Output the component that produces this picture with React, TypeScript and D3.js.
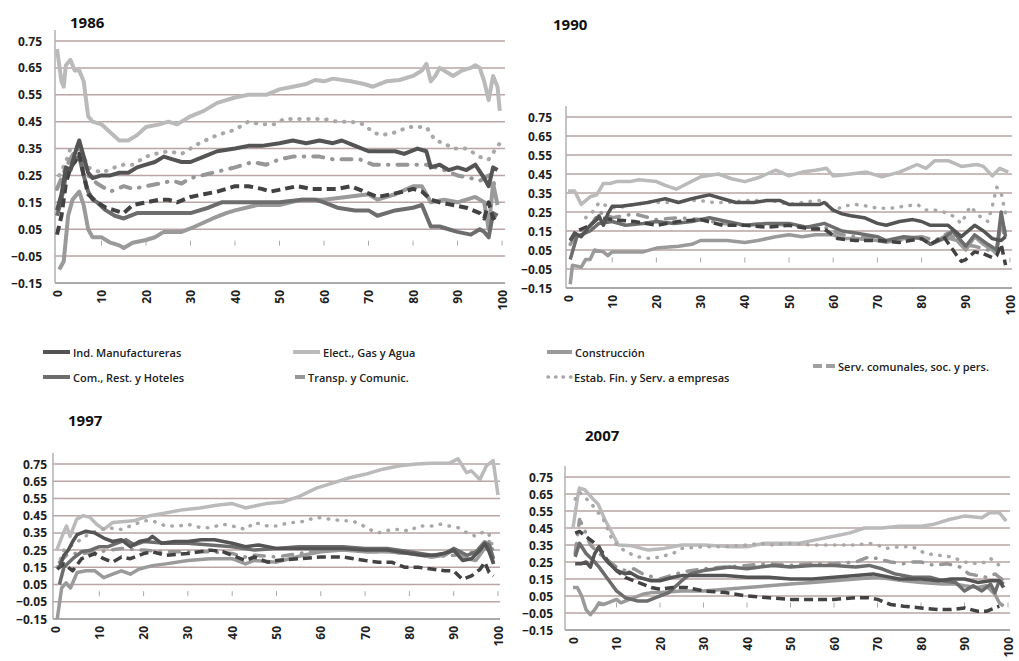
import React, { useEffect, useRef } from 'react';
import * as d3 from 'd3';

type Pt = [number, number];

const xTicks = [0, 10, 20, 30, 40, 50, 60, 70, 80, 90, 100];
const yTicks = [-0.15, -0.05, 0.05, 0.15, 0.25, 0.35, 0.45, 0.55, 0.65, 0.75];

const seriesNames = [
  'Ind. Manufactureras',
  'Elect., Gas y Agua',
  'Construcción',
  'Com., Rest. y Hoteles',
  'Transp. y Comunic.',
  'Estab. Fin. y Serv. a empresas',
  'Serv. comunales, soc. y pers.',
];

// ---- 1986 ----
const ind1986: Pt[] = [[0,0.12],[1,0.18],[2,0.28],[3,0.27],[4,0.33],[5,0.38],[6,0.32],[7,0.26],[8,0.24],[10,0.25],[12,0.25],[14,0.26],[16,0.26],[18,0.28],[20,0.29],[22,0.30],[24,0.32],[26,0.31],[28,0.30],[30,0.30],[33,0.32],[36,0.34],[40,0.35],[43,0.36],[46,0.36],[50,0.37],[53,0.38],[56,0.37],[59,0.38],[62,0.37],[64,0.38],[67,0.36],[70,0.34],[73,0.34],[76,0.34],[78,0.33],[81,0.35],[83,0.34],[84,0.28],[86,0.29],[88,0.27],[90,0.28],[92,0.27],[94,0.29],[96,0.24],[97,0.21],[98,0.28],[99,0.27]];
const elect1986: Pt[] = [[0,0.72],[1,0.6],[1.5,0.58],[2,0.66],[3,0.68],[4,0.64],[5,0.64],[6,0.6],[7,0.47],[8,0.45],[10,0.44],[12,0.41],[14,0.38],[16,0.38],[18,0.4],[20,0.43],[23,0.44],[25,0.45],[27,0.44],[30,0.47],[33,0.49],[36,0.52],[40,0.54],[43,0.55],[47,0.55],[50,0.57],[53,0.58],[56,0.59],[58,0.605],[60,0.6],[62,0.61],[66,0.6],[69,0.59],[71,0.58],[74,0.6],[77,0.605],[80,0.62],[82,0.64],[83,0.665],[84,0.6],[85,0.62],[86,0.65],[88,0.63],[89,0.62],[91,0.64],[93,0.65],[94,0.66],[95,0.65],[96,0.6],[97,0.53],[98,0.62],[99,0.58],[99.5,0.49]];
const constr1986: Pt[] = [[0.5,-0.1],[1.5,-0.07],[2.5,0.1],[3.5,0.16],[5,0.19],[6,0.14],[7,0.05],[8,0.02],[10,0.02],[12,0],[14,-0.01],[15,-0.02],[17,0],[20,0.01],[22,0.02],[24,0.04],[26,0.04],[28,0.04],[31,0.06],[35,0.09],[38,0.11],[40,0.12],[45,0.14],[50,0.14],[55,0.16],[60,0.16],[65,0.17],[70,0.18],[72,0.16],[76,0.18],[80,0.21],[82,0.21],[84,0.15],[87,0.16],[90,0.15],[94,0.17],[96,0.15],[97,0.05],[98,0.22],[99,0.14]];
const com1986: Pt[] = [[0,0.1],[1,0.16],[2,0.25],[3,0.27],[4,0.31],[5,0.32],[6,0.25],[7,0.19],[8,0.16],[9,0.15],[11,0.12],[13,0.1],[15,0.09],[18,0.11],[22,0.11],[26,0.11],[30,0.11],[34,0.13],[37,0.15],[40,0.15],[45,0.15],[50,0.15],[55,0.16],[58,0.16],[60,0.15],[63,0.13],[67,0.12],[70,0.12],[72,0.1],[76,0.12],[80,0.13],[82,0.14],[84,0.06],[86,0.06],[88,0.05],[90,0.04],[93,0.03],[95,0.05],[96,0.04],[97,0.02],[98,0.11],[99,0.1]];
const transp1986: Pt[] = [[0,0.2],[1,0.24],[2,0.28],[3,0.31],[4,0.34],[5,0.35],[6,0.3],[7,0.25],[9,0.22],[12,0.19],[15,0.21],[17,0.2],[20,0.21],[23,0.22],[26,0.23],[28,0.22],[30,0.24],[35,0.26],[40,0.28],[44,0.3],[47,0.29],[50,0.31],[53,0.32],[56,0.32],[59,0.32],[62,0.31],[65,0.31],[68,0.31],[71,0.29],[74,0.29],[77,0.29],[80,0.29],[83,0.29],[85,0.28],[87,0.27],[90,0.25],[93,0.24],[95,0.23],[97,0.25],[99,0.2]];
const estab1986: Pt[] = [[0.5,0.25],[2,0.3],[3,0.35],[5,0.36],[7,0.28],[10,0.26],[13,0.28],[15,0.29],[17,0.29],[20,0.32],[22,0.33],[25,0.34],[28,0.33],[30,0.35],[32,0.37],[36,0.4],[40,0.42],[43,0.45],[46,0.44],[49,0.44],[51,0.46],[54,0.46],[57,0.46],[60,0.46],[63,0.45],[66,0.45],[69,0.44],[71,0.41],[73,0.4],[76,0.41],[79,0.43],[81,0.43],[83,0.43],[85,0.38],[87,0.37],[89,0.35],[92,0.35],[94,0.33],[96,0.31],[97,0.31],[99.5,0.37]];
const serv1986: Pt[] = [[0,0.03],[1,0.1],[2,0.22],[3,0.28],[4,0.3],[5,0.33],[6,0.25],[7,0.18],[9,0.15],[11,0.13],[13,0.12],[15,0.11],[17,0.14],[20,0.15],[23,0.16],[25,0.16],[27,0.15],[30,0.17],[33,0.18],[36,0.19],[40,0.21],[43,0.21],[46,0.2],[48,0.19],[51,0.2],[54,0.21],[57,0.2],[60,0.2],[63,0.2],[66,0.21],[69,0.19],[72,0.17],[75,0.18],[78,0.19],[80,0.2],[82,0.19],[84,0.16],[86,0.15],[89,0.14],[92,0.13],[95,0.11],[96,0.09],[97,0.15],[98,0.09],[99,0.1]];

// ---- 1990 ----
const ind1990: Pt[] = [[0.5,0.1],[1.5,0.14],[3,0.12],[4,0.15],[5,0.18],[6,0.2],[7,0.23],[8,0.18],[9,0.24],[10,0.28],[12,0.28],[15,0.29],[18,0.3],[20,0.31],[22,0.32],[25,0.3],[28,0.32],[30,0.33],[32,0.34],[35,0.32],[38,0.3],[40,0.3],[42,0.3],[45,0.31],[48,0.31],[50,0.29],[54,0.29],[57,0.29],[58,0.3],[60,0.26],[62,0.24],[64,0.23],[67,0.22],[70,0.19],[72,0.18],[75,0.2],[78,0.21],[80,0.2],[82,0.18],[84,0.18],[86,0.18],[88,0.14],[89,0.12],[91,0.16],[92,0.18],[94,0.15],[96,0.11],[98,0.1],[99,0.12]];
const elect1990: Pt[] = [[0,0.36],[1.5,0.36],[3,0.29],[5,0.33],[6.5,0.34],[8,0.4],[9.5,0.4],[11,0.41],[14,0.41],[16,0.42],[20,0.41],[22,0.39],[24.5,0.37],[27,0.4],[30,0.435],[34,0.45],[37,0.425],[40,0.41],[43,0.43],[45,0.45],[47,0.47],[50,0.44],[53,0.46],[56,0.47],[58.5,0.48],[60,0.44],[64,0.45],[67.5,0.46],[71,0.435],[75,0.46],[79,0.5],[81,0.48],[83,0.52],[86,0.52],[89,0.49],[92.5,0.5],[94,0.49],[96,0.44],[97.7,0.48],[99.6,0.46]];
const constr1990: Pt[] = [[0.5,-0.13],[1,-0.03],[3,-0.04],[4,0],[5,0],[6,0.05],[8,0.04],[9,0.02],[10,0.04],[14,0.04],[17,0.04],[20,0.06],[25,0.07],[28,0.08],[30,0.1],[33,0.1],[36,0.1],[40,0.09],[43,0.1],[47,0.12],[50,0.13],[53,0.12],[56,0.13],[60,0.13],[62,0.11],[65,0.11],[70,0.1],[72,0.09],[76,0.11],[80,0.12],[82,0.08],[85,0.12],[88,0.1],[90,0.05],[92,0.12],[94,0.08],[96,0.05],[97,0.03],[98,0.21],[99,0.14]];
const com1990: Pt[] = [[0.5,0],[2,0.12],[5,0.15],[7,0.19],[10,0.2],[13,0.18],[17,0.19],[20,0.2],[24,0.19],[28,0.2],[32,0.22],[36,0.2],[40,0.18],[45,0.19],[50,0.19],[54,0.17],[58,0.19],[62,0.15],[65,0.14],[70,0.12],[72,0.1],[76,0.12],[80,0.11],[82,0.08],[85,0.11],[87,0.15],[90,0.07],[92,0.13],[95,0.08],[97,0.05],[98,0.25],[99,0.12]];
const transp1990: Pt[] = [[0.5,0.08],[2,0.14],[5,0.17],[7,0.25],[10,0.22],[15,0.24],[20,0.21],[25,0.22],[30,0.21],[35,0.19],[40,0.18],[45,0.19],[50,0.18],[55,0.17],[58,0.17],[62,0.13],[65,0.12],[70,0.11],[75,0.1],[80,0.12],[83,0.1],[86,0.14],[89,0.08],[92,0.07],[95,0.05],[97,0.06],[98,0.2],[99,0.1]];
const estab1990: Pt[] = [[4,0.22],[6,0.26],[7,0.3],[9,0.28],[11,0.27],[13,0.28],[15,0.29],[18,0.3],[20,0.3],[23,0.3],[26,0.31],[30,0.31],[33,0.3],[36,0.3],[40,0.31],[43,0.31],[46,0.31],[50,0.29],[53,0.3],[56,0.31],[58,0.31],[60,0.25],[62,0.28],[65,0.29],[68,0.28],[70,0.27],[73,0.27],[76,0.28],[79,0.29],[81,0.26],[83,0.26],[85,0.25],[87,0.23],[89,0.19],[91,0.28],[93,0.23],[95,0.2],[96,0.28],[97,0.38],[98,0.35],[99,0.24]];
const serv1990: Pt[] = [[0.5,0.1],[2,0.15],[5,0.18],[7,0.22],[10,0.21],[15,0.2],[20,0.18],[25,0.2],[30,0.21],[35,0.18],[40,0.18],[45,0.17],[50,0.18],[55,0.16],[58,0.16],[61,0.11],[65,0.1],[70,0.1],[75,0.09],[80,0.11],[82,0.08],[85,0.12],[88,0.02],[89,-0.01],[90,0],[92,0.04],[94,0.03],[96,0.01],[97,0.02],[98,0.08],[99,-0.03]];

// ---- 1997 ----
const ind1997: Pt[] = [[1,0.15],[2,0.22],[3,0.25],[4,0.3],[5,0.34],[7,0.36],[9,0.35],[11,0.32],[13,0.3],[15,0.31],[17,0.27],[19,0.3],[21,0.31],[22,0.33],[24,0.29],[27,0.3],[30,0.3],[33,0.31],[36,0.31],[38,0.3],[40,0.29],[43,0.27],[46,0.28],[50,0.26],[55,0.26],[60,0.26],[65,0.26],[70,0.25],[75,0.25],[80,0.23],[83,0.22],[86,0.22],[89,0.24],[90,0.25],[92,0.19],[94,0.2],[96,0.25],[97,0.29],[98,0.24],[99,0.17]];
const elect1997: Pt[] = [[0.4,0.25],[1.9,0.35],[2.6,0.39],[3.4,0.33],[4.9,0.43],[6.4,0.45],[7.9,0.44],[9.4,0.4],[11,0.37],[13,0.41],[17.7,0.42],[21.4,0.45],[23.7,0.46],[29,0.485],[32.7,0.495],[36.5,0.51],[40,0.52],[43,0.495],[47.7,0.52],[51.5,0.53],[53.8,0.55],[55,0.56],[59,0.61],[62.8,0.64],[66.5,0.67],[70,0.69],[74,0.72],[77.8,0.74],[81.6,0.75],[85,0.755],[89,0.755],[91,0.78],[92.9,0.7],[94,0.71],[95.9,0.66],[97.4,0.74],[98.9,0.77],[100,0.57]];
const constr1997: Pt[] = [[0.5,-0.15],[1.5,0.03],[2.5,0.06],[3.5,0.03],[5,0.12],[7,0.13],[9,0.13],[11,0.09],[13,0.11],[15,0.13],[17,0.11],[19,0.14],[22,0.16],[25,0.17],[30,0.19],[35,0.2],[40,0.2],[43,0.17],[45,0.19],[50,0.18],[53,0.2],[56,0.22],[60,0.24],[65,0.25],[70,0.24],[75,0.24],[80,0.23],[85,0.21],[88,0.22],[90,0.25],[93,0.2],[95,0.19],[97,0.26],[98,0.3],[99,0.17]];
const com1997: Pt[] = [[1,0.05],[2,0.15],[4,0.2],[6,0.24],[8,0.25],[10,0.27],[12,0.27],[14,0.29],[16,0.31],[18,0.28],[20,0.3],[25,0.29],[30,0.29],[35,0.28],[40,0.27],[45,0.25],[50,0.26],[55,0.27],[60,0.27],[65,0.27],[70,0.26],[75,0.26],[80,0.24],[85,0.22],[88,0.23],[90,0.26],[93,0.22],[95,0.24],[97,0.29],[98,0.28],[99,0.2]];
const transp1997: Pt[] = [[1,0.18],[3,0.23],[6,0.23],[10,0.24],[15,0.26],[20,0.25],[25,0.24],[30,0.24],[35,0.24],[40,0.23],[43,0.21],[45,0.22],[50,0.21],[55,0.23],[60,0.25],[65,0.26],[70,0.24],[75,0.24],[80,0.23],[85,0.21],[90,0.22],[95,0.24],[97,0.3],[99,0.25]];
const estab1997: Pt[] = [[0.5,0.15],[2,0.25],[4,0.28],[8,0.35],[12,0.38],[15,0.37],[17,0.39],[20,0.42],[22,0.42],[25,0.39],[28,0.39],[30,0.4],[33,0.38],[35,0.38],[38,0.4],[40,0.39],[43,0.37],[45,0.41],[48,0.39],[50,0.39],[53,0.41],[55,0.41],[59,0.44],[62,0.43],[65,0.42],[67,0.42],[69,0.4],[71,0.37],[73,0.35],[76,0.37],[78,0.37],[80,0.36],[82,0.39],[85,0.39],[87,0.4],[89,0.39],[91,0.38],[93,0.35],[95,0.33],[97,0.36],[98,0.34],[99,0.25]];
const serv1997: Pt[] = [[0.5,0.14],[2,0.17],[4,0.13],[6,0.2],[8,0.22],[9,0.23],[11,0.2],[13,0.18],[15,0.21],[17,0.2],[20,0.23],[22,0.24],[25,0.22],[30,0.23],[35,0.25],[38,0.24],[40,0.22],[43,0.19],[45,0.21],[48,0.18],[50,0.19],[55,0.2],[60,0.21],[65,0.21],[70,0.19],[73,0.18],[76,0.18],[79,0.15],[82,0.15],[85,0.14],[88,0.13],[90,0.13],[92,0.08],[94,0.1],[96,0.14],[97,0.18],[98,0.12],[99,0.1]];

// ---- 2007 ----
const ind2007: Pt[] = [[0.5,0.24],[2,0.24],[3,0.25],[4,0.22],[5,0.3],[6,0.34],[7,0.28],[8,0.25],[10,0.2],[12,0.18],[13,0.19],[15,0.16],[18,0.14],[20,0.14],[23,0.16],[25,0.17],[30,0.17],[35,0.17],[40,0.16],[45,0.16],[50,0.15],[55,0.15],[60,0.16],[65,0.17],[69,0.18],[71,0.17],[75,0.15],[80,0.15],[84,0.14],[87,0.15],[90,0.15],[93,0.13],[96,0.14],[98,0.14],[99,0.1]];
const elect2007: Pt[] = [[0,0.45],[1.2,0.655],[1.5,0.685],[2.7,0.675],[5,0.61],[5.8,0.59],[7.3,0.5],[8.8,0.43],[10.4,0.35],[13.5,0.345],[17.3,0.32],[21,0.33],[25,0.35],[30,0.35],[36.5,0.34],[40,0.34],[44,0.36],[48,0.36],[52,0.36],[55.8,0.38],[59.6,0.4],[63.5,0.42],[67,0.45],[71,0.45],[75,0.46],[80,0.46],[82.7,0.47],[86.5,0.5],[90,0.52],[94,0.51],[95.8,0.54],[98,0.54],[99.6,0.49]];
const constr2007: Pt[] = [[0,0.1],[1,0.1],[2,0.05],[3,-0.03],[4,-0.06],[5,-0.03],[6,0.01],[7,0],[8,0.01],[9,0.02],[10,0.03],[11,0.01],[12,0.02],[14,0.04],[16,0.06],[18,0.07],[20,0.07],[25,0.08],[30,0.08],[35,0.09],[40,0.1],[45,0.11],[50,0.12],[55,0.13],[60,0.14],[65,0.15],[70,0.16],[73,0.15],[76,0.14],[80,0.13],[85,0.12],[88,0.12],[90,0.11],[93,0.1],[95,0.11],[97,0.06],[98,0.01],[99,-0.01]];
const com2007: Pt[] = [[0.5,0.28],[1.5,0.36],[3,0.3],[5,0.25],[6,0.22],[8,0.15],[10,0.08],[12,0.04],[15,0.02],[17,0.02],[19,0.04],[22,0.07],[25,0.14],[27,0.18],[30,0.2],[33,0.21],[36,0.22],[40,0.21],[43,0.22],[46,0.23],[50,0.22],[55,0.23],[60,0.23],[65,0.22],[68,0.23],[71,0.21],[74,0.18],[78,0.16],[82,0.16],[85,0.14],[88,0.13],[90,0.08],[92,0.11],[94,0.08],[96,0.12],[97,0.07],[98,0.14],[99,0.12]];
const transp2007: Pt[] = [[0.5,0.3],[1.5,0.5],[2.5,0.45],[4,0.35],[6,0.3],[8,0.26],[10,0.22],[12,0.2],[14,0.21],[16,0.18],[20,0.15],[25,0.19],[30,0.21],[35,0.22],[40,0.23],[45,0.24],[50,0.23],[55,0.24],[60,0.24],[65,0.25],[68,0.28],[70,0.27],[73,0.25],[76,0.24],[78,0.25],[80,0.25],[83,0.23],[86,0.24],[89,0.22],[91,0.18],[93,0.17],[95,0.16],[97,0.18],[99,0.14]];
const estab2007: Pt[] = [[0.5,0.62],[1.5,0.66],[4,0.6],[7,0.5],[9,0.38],[11,0.33],[13,0.3],[15,0.28],[18,0.27],[20,0.28],[23,0.3],[25,0.33],[30,0.34],[35,0.34],[40,0.35],[43,0.36],[46,0.35],[50,0.36],[55,0.35],[60,0.35],[65,0.35],[68,0.36],[70,0.35],[72,0.33],[75,0.34],[78,0.34],[81,0.3],[84,0.29],[87,0.28],[90,0.25],[93,0.24],[95,0.25],[96,0.27],[98,0.23]];
const serv2007: Pt[] = [[0.5,0.42],[1.5,0.43],[3,0.4],[5,0.36],[7,0.3],[8,0.25],[10,0.2],[12,0.16],[14,0.14],[16,0.12],[18,0.1],[20,0.09],[23,0.1],[26,0.1],[30,0.08],[35,0.07],[40,0.05],[45,0.04],[50,0.03],[55,0.03],[60,0.03],[65,0.04],[68,0.04],[70,0.03],[73,0],[76,-0.01],[80,-0.02],[84,-0.03],[87,-0.03],[90,-0.02],[93,-0.04],[95,-0.04],[97,-0.02],[98,-0.01]];

const styles: Record<string, { color: string; dash: string | null; cap: string }> = {
  'Ind. Manufactureras': { color: '#545454', dash: null, cap: 'butt' },
  'Elect., Gas y Agua': { color: '#bababa', dash: null, cap: 'butt' },
  'Construcción': { color: '#9a9a9a', dash: null, cap: 'butt' },
  'Com., Rest. y Hoteles': { color: '#6d6d6d', dash: null, cap: 'butt' },
  'Transp. y Comunic.': { color: '#979797', dash: '10 9 0.5 9', cap: 'round' },
  'Estab. Fin. y Serv. a empresas': { color: '#a8a8a8', dash: '0.5 8.5', cap: 'round' },
  'Serv. comunales, soc. y pers.': { color: '#424242', dash: '9 5', cap: 'butt' },
};

// drawing order (back to front)
const drawOrder = [
  'Elect., Gas y Agua',
  'Estab. Fin. y Serv. a empresas',
  'Transp. y Comunic.',
  'Construcción',
  'Com., Rest. y Hoteles',
  'Serv. comunales, soc. y pers.',
  'Ind. Manufactureras',
];

const panels = [
  {
    year: '1986', titleX: 70, titleY: 28, axisX: 55, x0: 57, x100: 502, right: 505, yTop: 41, yBot: 283, labelGap: 13, lw: 4,
    data: [ind1986, elect1986, constr1986, com1986, transp1986, estab1986, serv1986],
  },
  {
    year: '1990', titleX: 553, titleY: 30, axisX: 566, x0: 568, x100: 1010, right: 1012, yTop: 117, yBot: 288, labelGap: 14, lw: 3.5,
    data: [ind1990, elect1990, constr1990, com1990, transp1990, estab1990, serv1990],
  },
  {
    year: '1997', titleX: 68, titleY: 426, axisX: 53, x0: 55, x100: 498, right: 500, yTop: 464, yBot: 619, labelGap: 6, lw: 3.5,
    data: [ind1997, elect1997, constr1997, com1997, transp1997, estab1997, serv1997],
  },
  {
    year: '2007', titleX: 585, titleY: 441, axisX: 565, x0: 573, x100: 1008, right: 1010, yTop: 477, yBot: 630, labelGap: 12, lw: 3.5,
    data: [ind2007, elect2007, constr2007, com2007, transp2007, estab2007, serv2007],
  },
];

const legendItems = [
  { name: 'Ind. Manufactureras', x1: 43, x2: 70, y: 352 },
  { name: 'Com., Rest. y Hoteles', x1: 43, x2: 70, y: 377 },
  { name: 'Elect., Gas y Agua', x1: 293, x2: 320, y: 352 },
  { name: 'Transp. y Comunic.', x1: 295, x2: 305, y: 377 },
  { name: 'Construcción', x1: 547, x2: 572, y: 352 },
  { name: 'Estab. Fin. y Serv. a empresas', x1: 548, x2: 571, y: 377 },
  { name: 'Serv. comunales, soc. y pers.', x1: 813, x2: 835, y: 366 },
];

const FONT = "'Open Sans', 'DejaVu Sans', sans-serif";

const App: React.FC = () => {
  const svgRef = useRef<SVGSVGElement>(null);

  useEffect(() => {
    if (!svgRef.current) return;
    const svg = d3.select(svgRef.current);
    svg.selectAll('*').remove();

    svg.append('rect').attr('width', 1019).attr('height', 661).attr('fill', '#ffffff');

    const fmt = d3.format('.2f');

    panels.forEach(p => {
      const g = svg.append('g');
      const x = d3.scaleLinear().domain([0, 100]).range([p.x0, p.x100]);
      const y = d3.scaleLinear().domain([-0.15, 0.75]).range([p.yBot, p.yTop]);

      // gridlines
      g.selectAll('.grid')
        .data(yTicks.slice(1))
        .enter()
        .append('line')
        .attr('x1', p.axisX)
        .attr('x2', p.right)
        .attr('y1', d => y(d))
        .attr('y2', d => y(d))
        .attr('stroke', '#b9a5a5')
        .attr('stroke-width', 1.5);

      // bottom axis line
      g.append('line')
        .attr('x1', p.axisX).attr('x2', p.right)
        .attr('y1', y(-0.15)).attr('y2', y(-0.15))
        .attr('stroke', '#a9a9a9').attr('stroke-width', 2);

      // vertical axis
      g.append('line')
        .attr('x1', p.axisX).attr('x2', p.axisX)
        .attr('y1', p.yTop - 11).attr('y2', p.yBot)
        .attr('stroke', '#b0b0b0').attr('stroke-width', 1.5);

      // small ticks at zero
      g.selectAll('.zt')
        .data(xTicks.slice(1))
        .enter()
        .append('line')
        .attr('x1', d => x(d)).attr('x2', d => x(d))
        .attr('y1', y(0) - 2).attr('y2', y(0) + 3)
        .attr('stroke', '#aaaaaa').attr('stroke-width', 1);

      // y labels
      g.selectAll('.yl')
        .data(yTicks)
        .enter()
        .append('text')
        .attr('x', p.axisX - p.labelGap)
        .attr('y', d => y(d))
        .attr('text-anchor', 'end')
        .attr('dominant-baseline', 'central')
        .attr('font-family', FONT)
        .attr('font-weight', 700)
        .attr('font-size', 12)
        .attr('fill', '#1e1e1e')
        .text(d => fmt(d));

      // x labels (rotated)
      g.selectAll('.xl')
        .data(xTicks)
        .enter()
        .append('text')
        .attr('transform', d => `translate(${x(d)},${p.yBot + 7}) rotate(-90)`)
        .attr('text-anchor', 'end')
        .attr('dominant-baseline', 'central')
        .attr('font-family', FONT)
        .attr('font-weight', 700)
        .attr('font-size', 12)
        .attr('fill', '#1e1e1e')
        .text(d => String(d));

      // title
      g.append('text')
        .attr('x', p.titleX)
        .attr('y', p.titleY)
        .attr('font-family', FONT)
        .attr('font-weight', 700)
        .attr('font-size', 15)
        .attr('fill', '#111')
        .text(p.year);

      const line = d3.line<Pt>().x(d => x(d[0])).y(d => y(d[1]));

      drawOrder.forEach(name => {
        const idx = seriesNames.indexOf(name);
        const st = styles[name];
        const path = g.append('path')
          .attr('d', line(p.data[idx]) || '')
          .attr('fill', 'none')
          .attr('stroke', st.color)
          .attr('stroke-width', p.lw)
          .attr('stroke-linejoin', 'round')
          .attr('stroke-linecap', st.cap);
        if (st.dash) path.attr('stroke-dasharray', st.dash);
      });
    });

    // legend
    const lg = svg.append('g');
    legendItems.forEach(it => {
      const st = styles[it.name];
      const l = lg.append('line')
        .attr('x1', it.x1).attr('x2', it.x2)
        .attr('y1', it.y).attr('y2', it.y)
        .attr('stroke', st.color)
        .attr('stroke-width', 4)
        .attr('stroke-linecap', st.cap);
      if (it.name === 'Estab. Fin. y Serv. a empresas') l.attr('stroke-dasharray', '0.5 7').attr('stroke-width', 3.5);
      if (it.name === 'Serv. comunales, soc. y pers.') l.attr('stroke-dasharray', '9 4').attr('stroke', '#a0a0a0');
      if (it.name === 'Transp. y Comunic.') l.attr('stroke-linecap', 'butt');
      lg.append('text')
        .attr('x', it.x2 + 3)
        .attr('y', it.y)
        .attr('dominant-baseline', 'central')
        .attr('font-family', FONT)
        .attr('font-weight', 600)
        .attr('font-size', 11)
        .attr('fill', '#222')
        .text(it.name);
    });
  }, []);

  return (
    <svg
      ref={svgRef}
      width={1019}
      height={661}
      style={{ position: 'absolute', left: 0, top: 0, display: 'block' }}
    />
  );
};

export default App;
